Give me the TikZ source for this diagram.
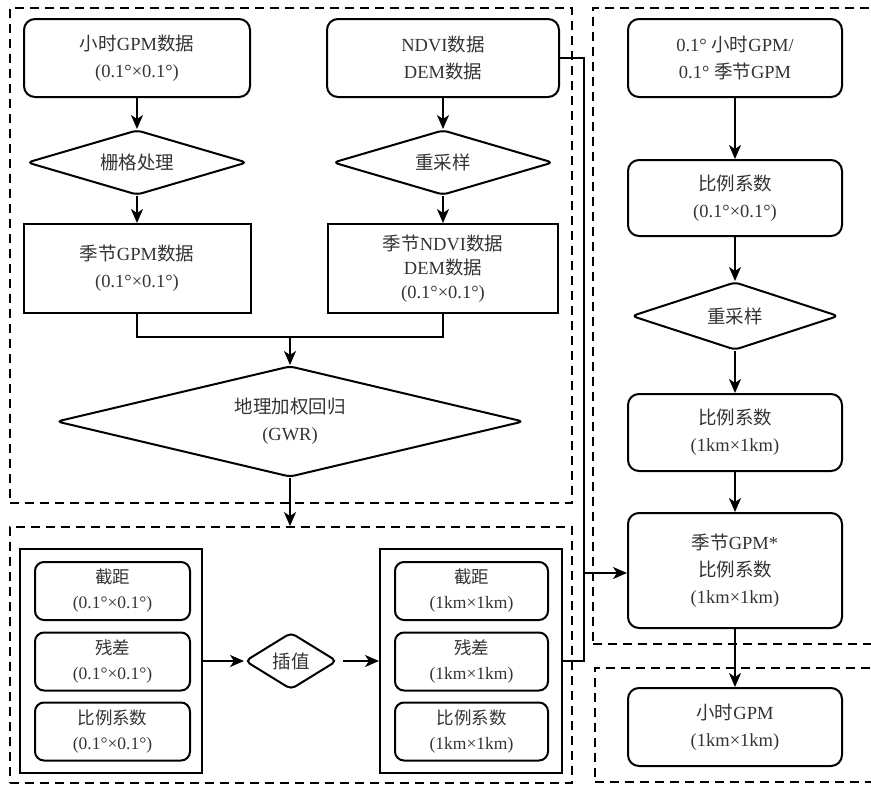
\documentclass[tikz,border=0pt]{standalone}
\usepackage{fontspec}
\setmainfont{Liberation Serif}
\newfontfamily\cjk{Noto Sans CJK SC}
\newcommand{\zh}[1]{{\cjk #1}}
\usetikzlibrary{arrows.meta,positioning,shapes.geometric}

\tikzset{
  box/.style={draw,line width=2pt,rounded corners=11pt,minimum width=226pt,minimum height=78pt,align=center,inner sep=2pt,text=black!80,font=\fontsize{18.5pt}{27pt}\selectfont},
  sqbox/.style={box,rounded corners=0pt},
  smallbox/.style={box,rounded corners=9pt,minimum width=155pt,minimum height=58pt,font=\fontsize{17.5pt}{25pt}\selectfont},
  dia/.style={draw,diamond,line width=2pt,rounded corners=5pt,inner sep=0pt,aspect=3,align=center,text=black!80,font=\fontsize{18.5pt}{27pt}\selectfont},
  grp/.style={draw,dashed,dash pattern=on 9pt off 6pt,line width=1.8pt,inner sep=0pt},
  panel/.style={draw,line width=2pt,inner sep=0pt},
  arr/.style={line width=2pt,-{Stealth[length=14pt,width=12pt,inset=4pt]}},
  ln/.style={line width=2pt}
}

\begin{document}
\begin{tikzpicture}[x=1pt,y=-1pt]
\useasboundingbox (0,0) rectangle (871,787);
% dashed groups
\node[grp,minimum width=562pt,minimum height=495pt] (fa) at (291,255.5) {};
\node[grp,minimum width=285pt,minimum height=636pt] (fb) at (735.5,326) {};
\node[grp,minimum width=562pt,minimum height=256pt] (fc) at (291,655) {};
\node[grp,minimum width=283pt,minimum height=114pt] (fd) at (736.5,725) {};
% left column
\node[box] (hgpm) at (137,58) {\zh{小时}GPM\zh{数据}\\(0.1°×0.1°)};
\node[box,minimum width=232pt] (ndvi) at (443,58) {NDVI\zh{数据}\\DEM\zh{数据}};
\node[dia,minimum width=220pt,minimum height=65pt] (grid) at (137,162.5) {\zh{栅格处理}};
\node[dia,minimum width=220pt,minimum height=65pt] (rsa) at (443,162.5) {\zh{重采样}};
\node[sqbox,minimum width=227pt,minimum height=89pt] (sgpm) at (137,268.5) {\zh{季节}GPM\zh{数据}\\(0.1°×0.1°)};
\node[sqbox,minimum width=230pt,minimum height=89pt,font=\fontsize{18.5pt}{24pt}\selectfont] (sndvi) at (443,268.5) {\zh{季节}NDVI\zh{数据}\\DEM\zh{数据}\\(0.1°×0.1°)};
\node[dia,minimum width=467pt,minimum height=111pt] (gwr) at (290,421.5) {\zh{地理加权回归}\\(GWR)};
\coordinate (merge) at (290,337);
% coefficient panels
\node[panel,minimum width=182pt,minimum height=224pt] (lp) at (111,661) {};
\node[panel,minimum width=182pt,minimum height=224pt] (rp) at (471,661) {};
\node[smallbox] (lint) at (112.5,591) {\zh{截距}\\(0.1°×0.1°)};
\node[smallbox] (lres) at (112.5,661.5) {\zh{残差}\\(0.1°×0.1°)};
\node[smallbox] (lcoef) at (112.5,731.5) {\zh{比例系数}\\(0.1°×0.1°)};
\node[smallbox,minimum width=153pt] (rint) at (471.5,591) {\zh{截距}\\(1km×1km)};
\node[smallbox,minimum width=153pt] (rres) at (471.5,661.5) {\zh{残差}\\(1km×1km)};
\node[smallbox,minimum width=153pt] (rcoef) at (471.5,731.5) {\zh{比例系数}\\(1km×1km)};
\node[dia,aspect=1.6,minimum width=92pt,minimum height=57pt] (intp) at (291,661) {\zh{插值}};
% right column
\node[box,minimum width=214pt] (src) at (735,58) {0.1° \zh{小时}GPM/\\0.1° \zh{季节}GPM};
\node[box,minimum width=214pt,minimum height=76pt] (c01) at (735,198) {\zh{比例系数}\\(0.1°×0.1°)};
\node[dia,minimum width=207pt,minimum height=68pt] (rsb) at (735,316) {\zh{重采样}};
\node[box,minimum width=214pt,minimum height=77pt] (c1k) at (735,432.5) {\zh{比例系数}\\(1km×1km)};
\node[box,minimum width=214pt,minimum height=115pt] (prod) at (735,570.5) {\zh{季节}GPM*\\\zh{比例系数}\\(1km×1km)};
\node[box,minimum width=214pt] (hr) at (735,727) {\zh{小时}GPM\\(1km×1km)};
\coordinate (j) at (584,573);
% connectors
\draw[arr] (hgpm) -- (grid);
\draw[arr] (grid) -- (grid |- sgpm.north);
\draw[arr] (ndvi) -- (rsa);
\draw[arr] (rsa) -- (rsa |- sndvi.north);
\draw[ln] (sgpm.south) |- (merge) -| (sndvi.south);
\draw[arr] (merge) -- (gwr.north);
\draw[arr] (gwr.south) -- (gwr.south |- fc.north);
\draw[arr] (lp.east) -- (intp.west);
\draw[arr] ([xshift=5pt]intp.east) -- (rp.west);
\draw[ln] (ndvi.east) -| (j);
\draw[ln] (rp.east) -| (j);
\draw[arr] (j) -- (j -| prod.west);
\draw[arr] (src) -- (c01);
\draw[arr] (c01) -- (rsb);
\draw[arr] (rsb) -- (c1k);
\draw[arr] (c1k) -- (prod);
\draw[arr] (prod) -- (hr);
\end{tikzpicture}
\end{document}
